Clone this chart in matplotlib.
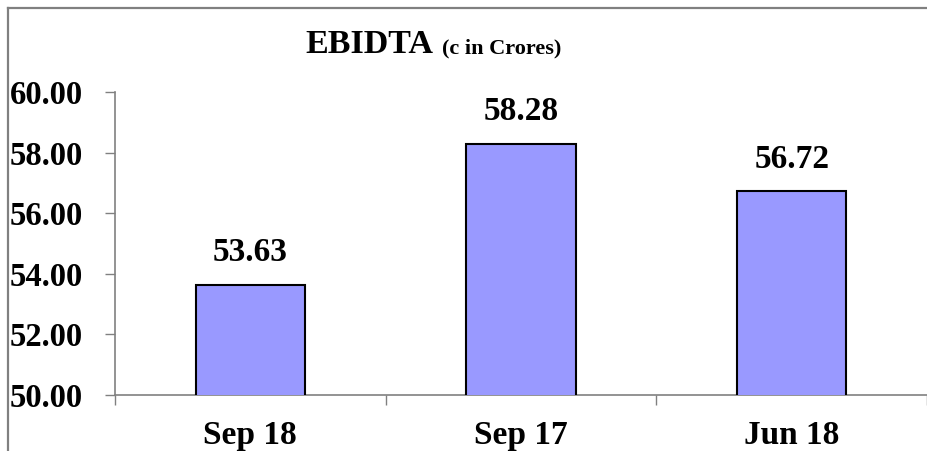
import matplotlib.pyplot as plt
from matplotlib.lines import Line2D

## DATA
quarters = ["Sep 18", "Sep 17", "Jun 18"]
ebidta = [53.63, 58.28, 56.72]
y_ticks = [50, 52, 54, 56, 58, 60]

plt.rcParams['font.family'] = ['Liberation Serif', 'DejaVu Serif']
plt.rcParams['font.weight'] = 'bold'

fig = plt.figure(figsize=(9.27, 4.51), dpi=100)
ax = fig.add_axes([115/927, 1 - 395/451, 1 - 115/927, (395 - 92)/451])

# outer frame (only top and left edges visible in reference)
fx, fy = 8/927, 1 - 8/451
fig.lines.append(Line2D([fx, 1], [fy, fy], transform=fig.transFigure, color="#808080", linewidth=1.6))
fig.lines.append(Line2D([fx, fx], [0, fy], transform=fig.transFigure, color="#808080", linewidth=1.6))

pos = list(range(len(quarters)))
bars = ax.bar(pos, ebidta, width=0.405, color="#9999FF", edgecolor="black", linewidth=1.5, zorder=3)

for x, v in zip(pos, ebidta):
    ax.annotate(f"{v:.2f}", (x, v), xytext=(0, 12), textcoords="offset points",
                ha="center", va="bottom", fontsize=24, fontweight="bold")

ax.set_ylim(50, 60)
ax.set_xlim(-0.5, -0.5 + 812/274)
ax.set_yticks(y_ticks)
ax.set_yticklabels([f"{t:.2f}" for t in y_ticks])
ax.tick_params(axis="y", direction="out", length=7, width=1, color="#808080", labelsize=23.5, pad=16)

# category boundaries as major ticks, labels on minor ticks
ax.set_xticks([-0.5, 0.5, 1.5, 2.5])
ax.set_xticklabels([])
ax.set_xticks(pos, minor=True)
ax.set_xticklabels(quarters, minor=True)
ax.tick_params(axis="x", which="major", direction="out", length=7, width=1, color="#808080")
ax.tick_params(axis="x", which="minor", length=0, labelsize=24, pad=18)

for s in ["top", "right"]:
    ax.spines[s].set_visible(False)
for s in ["left", "bottom"]:
    ax.spines[s].set_color("#808080")
    ax.spines[s].set_linewidth(1.2)

fig.text(305/927, 1 - 53/451, "EBIDTA", fontsize=24.5, fontweight="bold", va="baseline", ha="left")
fig.text(442/927, 1 - 53/451, "(c in Crores)", fontsize=16, fontweight="bold", va="baseline", ha="left")

fig.savefig("out.png", dpi=100)
